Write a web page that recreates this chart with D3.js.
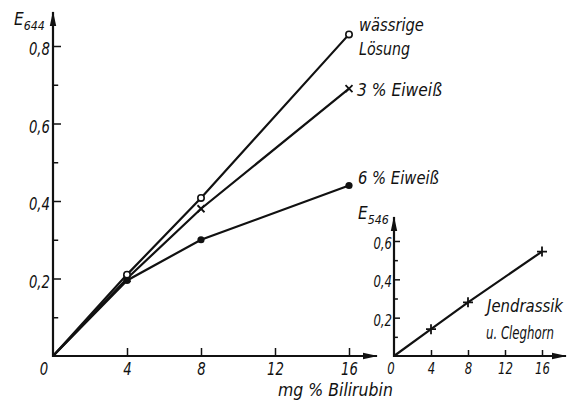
<!DOCTYPE html>
<html><head><meta charset="utf-8">
<script src="https://cdn.jsdelivr.net/npm/d3@7"></script>
<style>
body{margin:0;background:#fff;}
text{font-family:"DejaVu Sans",sans-serif;font-style:italic;fill:#111;}
</style></head>
<body>
<svg id="c" width="568" height="405"></svg>
<script>
// ---- data ----
const xTicks = [4, 8, 12, 16];
const yTicksMain = [0.2, 0.4, 0.6, 0.8];
const yMinorMain = [0.1, 0.3, 0.5, 0.7];
const yTicksInset = [0.2, 0.4, 0.6];
const yMinorInset = [0.1, 0.3, 0.5];
const xWaessrig = [0, 4, 8, 16];
const yWaessrig = [0, 0.21, 0.408, 0.83];
const xEiweiss3 = [0, 4, 8, 16];
const yEiweiss3 = [0, 0.20, 0.38, 0.69];
const xEiweiss6 = [0, 4, 8, 16];
const yEiweiss6 = [0, 0.195, 0.30, 0.44];
const xJendrassik = [0, 4, 8, 16];
const yJendrassik = [0, 0.14, 0.28, 0.545];

const svg = d3.select("#c");
const fmt = d => d.toFixed(1).replace(".", ",");

// horizontally condense a text element around its own anchor point
function condense(node, sx){
  const t = d3.select(node);
  const x = +t.attr("x") || 0, y = +t.attr("y") || 0;
  t.attr("transform", `translate(${x},${y}) scale(${sx},1) translate(${-x},${-y})`);
}

svg.append("defs").append("marker")
  .attr("id","arr").attr("viewBox","0 0 15 8").attr("refX",14).attr("refY",4)
  .attr("markerWidth",15).attr("markerHeight",8).attr("markerUnits","userSpaceOnUse")
  .attr("orient","auto")
  .append("path").attr("d","M0,0.8 L15,4 L0,7.2 Z").attr("fill","#111");

function panel(opts){
  const x = d3.scaleLinear().domain([0,16]).range(opts.xr);
  const y = d3.scaleLinear().domain([0,opts.ymax]).range(opts.yr);
  const g = svg.append("g");
  g.append("line").attr("x1",x(0)-1).attr("y1",y(0)).attr("x2",opts.xEnd).attr("y2",y(0))
    .attr("stroke","#111").attr("stroke-width",2.2).attr("marker-end","url(#arr)");
  g.append("line").attr("x1",x(0)).attr("y1",y(0)+1).attr("x2",x(0)).attr("y2",opts.yEnd)
    .attr("stroke","#111").attr("stroke-width",2.2).attr("marker-end","url(#arr)");
  const ya = g.append("g").attr("transform",`translate(${x(0)},0)`)
    .call(d3.axisLeft(y).tickValues(opts.yt).tickSizeInner(-opts.tl).tickSizeOuter(0).tickPadding(opts.pad).tickFormat(fmt));
  ya.select(".domain").remove();
  ya.selectAll("line").attr("stroke","#111").attr("stroke-width",1.5);
  ya.selectAll("text").attr("font-size",opts.fs).attr("dy","0.5em").style("font-family",null)
    .each(function(){ condense(this, 0.78); });
  const ym = g.append("g").attr("transform",`translate(${x(0)},0)`)
    .call(d3.axisLeft(y).tickValues(opts.ym).tickSizeInner(-opts.tl*0.65).tickSizeOuter(0).tickFormat(""));
  ym.select(".domain").remove();
  ym.selectAll("line").attr("stroke","#111").attr("stroke-width",1.5);
  const xa = g.append("g").attr("transform",`translate(0,${y(0)})`)
    .call(d3.axisBottom(x).tickValues(xTicks).tickSizeInner(-opts.tl).tickSizeOuter(0).tickPadding(opts.xpad).tickFormat(d3.format("d")));
  xa.select(".domain").remove();
  xa.selectAll("line").attr("stroke","#111").attr("stroke-width",1.5);
  xa.selectAll("text").attr("font-size",opts.fs).style("font-family",null)
    .each(function(){ condense(this, 0.78); });
  g.append("text").attr("x",x(0)-opts.zeroOff).attr("y",y(0)+opts.xpad).attr("dy","0.71em")
    .attr("text-anchor","middle").attr("font-size",opts.fs).text("0")
    .each(function(){ condense(this, 0.78); });
  return {x,y,g};
}

const M = panel({xr:[53,349], yr:[356,46], ymax:0.8, xEnd:377, yEnd:12, yt:yTicksMain, ym:yMinorMain,
  tl:8, pad:3, xpad:7, fs:17, zeroOff:9});
const I = panel({xr:[394,542], yr:[356,241], ymax:0.6, xEnd:566, yEnd:217, yt:yTicksInset, ym:yMinorInset,
  tl:6, pad:2, xpad:7, fs:15, zeroOff:3});

function series(P, xs, ys, marker){
  const pts = xs.map((v,i)=>[P.x(v),P.y(ys[i])]);
  P.g.append("path").attr("d",d3.line()(pts)).attr("fill","none").attr("stroke","#111").attr("stroke-width",2.2);
  pts.slice(1).forEach(([px,py])=>{
    if(marker==="open") P.g.append("circle").attr("cx",px).attr("cy",py).attr("r",3.2).attr("fill","#fff").attr("stroke","#111").attr("stroke-width",1.6);
    else if(marker==="dot") P.g.append("circle").attr("cx",px).attr("cy",py).attr("r",3.6).attr("fill","#111");
    else if(marker==="x") P.g.append("path").attr("d",`M${px-3.5},${py-3.5}L${px+3.5},${py+3.5}M${px-3.5},${py+3.5}L${px+3.5},${py-3.5}`).attr("stroke","#111").attr("stroke-width",1.8);
    else if(marker==="plus") P.g.append("path").attr("d",`M${px-5},${py}L${px+5},${py}M${px},${py-5}L${px},${py+5}`).attr("stroke","#111").attr("stroke-width",1.8);
  });
}
series(M, xEiweiss6, yEiweiss6, "dot");
series(M, xEiweiss3, yEiweiss3, "x");
series(M, xWaessrig, yWaessrig, "open");
series(I, xJendrassik, yJendrassik, "plus");

// labels: fitted to the widths seen in the reference
function lab(x,y,t,w,fs){
  const el = svg.append("text").attr("x",x).attr("y",y).attr("font-size",fs||17).text(t);
  const nat = el.node().getComputedTextLength();
  condense(el.node(), Math.min(1, w/nat));
}
lab(359,31,"wässrige",65);
lab(359,55,"Lösung",51);
lab(357,96,"3 % Eiweiß",85);
lab(358,184,"6 % Eiweiß",81);
lab(487,312,"Jendrassik",76,18);
lab(486,339,"u. Cleghorn",68,18);
lab(278,396,"mg % Bilirubin",115,18);

const t1 = svg.append("text").attr("x",14).attr("y",25).attr("font-size",18);
t1.append("tspan").text("E");
t1.append("tspan").attr("font-size",13).attr("dy",5).text("644");
condense(t1.node(), 0.85);
const t2 = svg.append("text").attr("x",358).attr("y",219).attr("font-size",18);
t2.append("tspan").text("E");
t2.append("tspan").attr("font-size",13).attr("dy",5).text("546");
condense(t2.node(), 0.85);
</script>
</body></html>
